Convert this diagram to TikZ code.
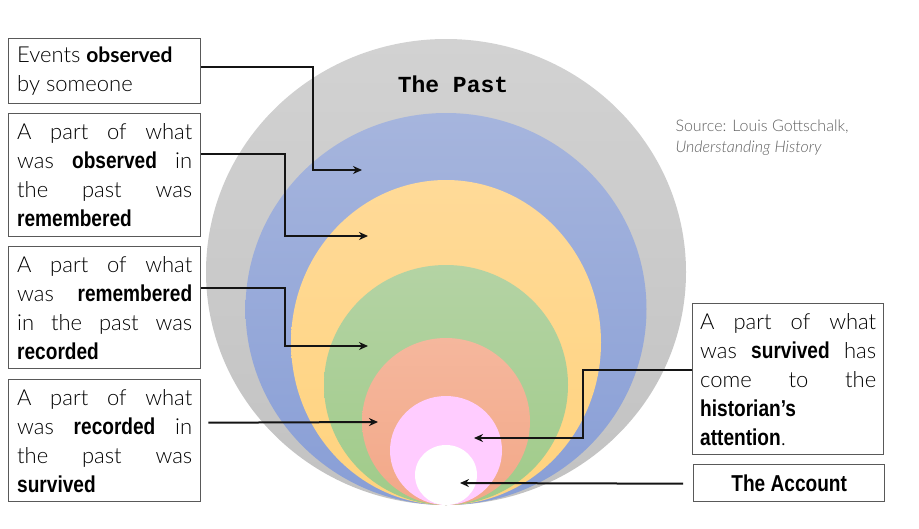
\documentclass[tikz,border=0pt]{standalone}
\usepackage{fontspec}
\usetikzlibrary{arrows.meta}
\IfFontExistsTF{Lato Light}{\setmainfont{Lato Light}}{\setmainfont{Lato}}
\newfontfamily\latof{Lato}
\newfontfamily\bnar{Liberation Sans}[FakeStretch=0.83]
\newfontfamily\cour{Liberation Mono}
\newcommand\bw[1]{{\bnar\bfseries\fontsize{23}{29}\selectfont #1}}
\newcommand\jline[1]{\makebox[175pt][s]{#1}}
\newcommand\kline[1]{\makebox[176pt][s]{#1}}
\definecolor{boxgray}{HTML}{595959}
\definecolor{srcgray}{HTML}{626262}
\definecolor{grayT}{RGB}{210,210,210}\definecolor{grayB}{RGB}{194,194,194}
\definecolor{blueT}{RGB}{166,181,221}\definecolor{blueB}{RGB}{136,158,214}
\definecolor{yelT}{RGB}{255,218,152}\definecolor{yelB}{RGB}{255,211,126}
\definecolor{grnT}{RGB}{180,211,164}\definecolor{grnB}{RGB}{160,203,137}
\definecolor{salT}{RGB}{245,183,157}\definecolor{salB}{RGB}{242,168,136}
\definecolor{pinkC}{RGB}{255,204,255}
\tikzset{
  txtbox/.style={draw=boxgray, line width=1.4pt, fill=white, inner xsep=8.5pt, inner ysep=0pt,
    align=left, minimum width=192pt, anchor=north west,
    font=\fontsize{22}{29}\selectfont},
  conn/.style={line width=2pt, draw=black!92, -{Stealth[length=9pt,width=8pt]}}
}
\begin{document}
\begin{tikzpicture}[x=1pt,y=-1pt]
\useasboundingbox (0,0) rectangle (919,528);
\fill[white] (0,0) rectangle (919,528);
% nested circles
\shade[top color=grayT, bottom color=grayB] (446,272) ellipse [x radius=240, y radius=233];
\shade[top color=blueT, bottom color=blueB] (446,309) ellipse [x radius=200.5, y radius=196];
\shade[top color=yelT, bottom color=yelB] (446,342.5) ellipse [x radius=155, y radius=162.5];
\shade[top color=grnT, bottom color=grnB] (446,385) ellipse [x radius=122, y radius=120];
\shade[top color=salT, bottom color=salB] (446,421.5) ellipse [x radius=84, y radius=83.5];
\fill[pinkC] (446,450.5) ellipse [x radius=56, y radius=54.5];
\fill[white] (446,475) ellipse [x radius=31, y radius=30];

\node[anchor=base, font=\cour\bfseries\fontsize{23}{23}\selectfont] (past) at (453,92) {The Past};
\node[anchor=base west, text=srcgray, font=\fontsize{16}{21}\selectfont] (src1) at (672,131) {Source: Louis Gottschalk,};
\node[anchor=base west, text=srcgray, font=\fontsize{16}{21}\selectfont\itshape] (src2) at (672,152) {Understanding History};

% boxes
\node[txtbox, minimum height=65pt] (b1) at (8,38)
  {\makebox[175pt][l]{Events {\latof\bfseries\fontsize{21}{29}\selectfont observed}}\\\makebox[175pt][l]{by someone}};
\node[txtbox, minimum height=123pt] (b2) at (8,113)
  {\jline{A part of what}\\\jline{was \bw{observed} in}\\\jline{the past was}\\\makebox[175pt][l]{\bw{remembered}}};
\node[txtbox, minimum height=122pt] (b3) at (8,246)
  {\jline{A part of what}\\\jline{was \bw{remembered}}\\\jline{in the past was}\\\makebox[175pt][l]{\bw{recorded}}};
\node[txtbox, minimum height=122pt] (b4) at (8,379)
  {\jline{A part of what}\\\jline{was \bw{recorded} in}\\\jline{the past was}\\\makebox[175pt][l]{\bw{survived}}};
\node[txtbox, minimum width=191pt, inner xsep=7.5pt, minimum height=151pt] (b5) at (692,303)
  {\kline{A part of what}\\\kline{was \bw{survived} has}\\\kline{come to the}\\\makebox[176pt][l]{\bw{historian’s}}\\\makebox[176pt][l]{\bw{attention}.}};
\node[txtbox, minimum width=191pt, minimum height=37pt, align=center] (b6) at (693,464)
  {\bw{The Account}};

% connector points
\coordinate (k1) at (313,170); \coordinate (a1) at (362,170);
\coordinate (k2) at (285,236); \coordinate (a2) at (368,236);
\coordinate (k3) at (285,346); \coordinate (a3) at (368,346);
\coordinate (a4) at (378,422);
\coordinate (k5) at (583,438); \coordinate (a5) at (474,438);
\coordinate (a6) at (460,483);

\draw[conn] ([yshift=4.5pt]b1.east) -| (k1) -- (a1);
\draw[conn] ([yshift=21.5pt]b2.east) -| (k2) -- (a2);
\draw[conn] ([yshift=20pt]b3.east) -| (k3) -- (a3);
\draw[conn] ([xshift=7pt,yshift=18pt]b4.east) -- (a4);
\draw[conn] ([yshift=9.5pt]b5.west) -| (k5) -- (a5);
\draw[conn] ([xshift=-10pt,yshift=-0.5pt]b6.west) -- (a6);
\end{tikzpicture}
\end{document}
